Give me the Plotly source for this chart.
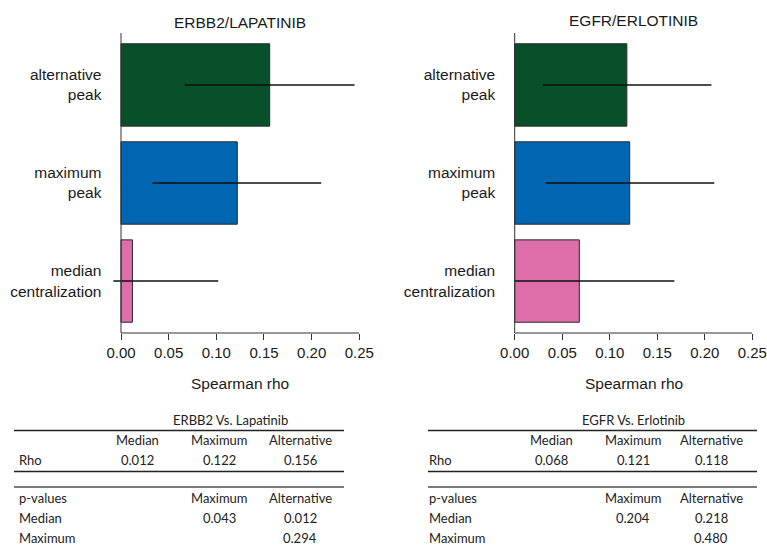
import plotly.graph_objects as go

# ---------------- data ----------------
categories = ["median<br>centralization", "maximum<br>peak", "alternative<br>peak"]  # bottom -> top
bar_colors = ["#DD6EAA", "#0066B1", "#07502A"]

erbb2_rho = [0.012, 0.122, 0.156]
erbb2_err_low = [-0.008, 0.033, 0.067]
erbb2_err_high = [0.102, 0.210, 0.245]

egfr_rho = [0.068, 0.121, 0.118]
egfr_err_low = [0.0, 0.0326, 0.0295]
egfr_err_high = [0.168, 0.210, 0.207]

panel_titles = ["ERBB2/LAPATINIB", "EGFR/ERLOTINIB"]
x_title = "Spearman rho"
x_tickvals = [0.00, 0.05, 0.10, 0.15, 0.20, 0.25]
x_ticktext = ["0.00", "0.05", "0.10", "0.15", "0.20", "0.25"]

table_titles = ["ERBB2 Vs. Lapatinib", "EGFR Vs. Erlotinib"]
rho_header = ["", "Median", "Maximum", "Alternative"]
rho_rows = [["Rho", "0.012", "0.122", "0.156"], ["Rho", "0.068", "0.121", "0.118"]]
p_header = ["p-values", "", "Maximum", "Alternative"]
p_rows = [
    [["Median", "", "0.043", "0.012"], ["Maximum", "", "", "0.294"]],
    [["Median", "", "0.204", "0.218"], ["Maximum", "", "", "0.480"]],
]

# ---------------- layout helpers ----------------
W, H = 767, 545
def px(x):
    return x / W
def py(y):
    return (H - y) / H

AXIS_FONT = "Liberation Sans, Arial, sans-serif"
TABLE_FONT = "Lato, Carlito, Calibri, sans-serif"
INK = "#1a1a1a"

fig = go.Figure()

panels = [
    dict(rho=erbb2_rho, lo=erbb2_err_low, hi=erbb2_err_high, xa="x", ya="y"),
    dict(rho=egfr_rho, lo=egfr_err_low, hi=egfr_err_high, xa="x2", ya="y2"),
]
for p in panels:
    fig.add_trace(go.Bar(
        x=p["rho"], y=categories, orientation="h",
        marker=dict(color=bar_colors, line=dict(color="#2a2a2a", width=1)),
        error_x=dict(type="data", symmetric=False,
                     array=[h - v for h, v in zip(p["hi"], p["rho"])],
                     arrayminus=[v - l for v, l in zip(p["rho"], p["lo"])],
                     color="#111111", thickness=1.5, width=0),
        xaxis=p["xa"], yaxis=p["ya"], showlegend=False, hoverinfo="x+y",
    ))

xcommon = dict(range=[-0.01, 0.25], tickvals=x_tickvals, ticktext=x_ticktext,
               ticks="outside", ticklen=6, tickcolor="#333333", tickwidth=1,
               showline=False, showgrid=False, zeroline=False, automargin=False,
               tickfont=dict(family=AXIS_FONT, size=15, color=INK))
ycommon = dict(type="category", categoryorder="array", categoryarray=categories,
               range=[-0.53, 2.53], showline=False, showgrid=False, zeroline=False,
               ticks="", ticklabelstandoff=9, automargin=False,
               tickfont=dict(family=AXIS_FONT, size=15.5, color=INK))

ydom = [py(333), py(33)]
fig.update_layout(
    width=W, height=H, margin=dict(l=0, r=0, t=0, b=0), autosize=False,
    paper_bgcolor="white", plot_bgcolor="white",
    bargap=0.16,
    xaxis=dict(domain=[px(111.47), px(359.3)], anchor="y", **xcommon),
    yaxis=dict(domain=ydom, anchor="x", **ycommon),
    xaxis2=dict(domain=[px(505.2), px(752.3)], anchor="y2", **xcommon),
    yaxis2=dict(domain=ydom, anchor="x2", **ycommon),
)

shapes = []
annotations = []
for i, (xa, ya) in enumerate([("x", "y"), ("x2", "y2")]):
    # axis lines starting at zero
    shapes.append(dict(type="line", xref=xa, yref=ya + " domain", x0=0, x1=0, y0=0, y1=1,
                       line=dict(color="#333333", width=1)))
    shapes.append(dict(type="line", xref=xa, yref=ya + " domain", x0=0, x1=0.25, y0=0, y1=0,
                       line=dict(color="#333333", width=1)))

title_x = [240, 633.5]
title_y = [22, 21]
for i in range(2):
    annotations.append(dict(text=panel_titles[i], x=px(title_x[i]), y=py(title_y[i]),
                            xref="paper", yref="paper", showarrow=False,
                            xanchor="center", yanchor="middle",
                            font=dict(family=AXIS_FONT, size=15.5, color=INK)))
    annotations.append(dict(text=x_title, x=px(title_x[i]), y=py(383),
                            xref="paper", yref="paper", showarrow=False,
                            xanchor="center", yanchor="middle",
                            font=dict(family=AXIS_FONT, size=15.5, color=INK)))

# ---------------- tables ----------------
tbl_left = [17, 427]
tbl_cols = [[137, 219, 300], [551, 633, 711]]
tbl_rule = [[14, 344], [428, 757]]
tbl_center = [230, 633]
row_y = dict(title=420, rule1=430.5, head=440, rho=459.5, rule2=471.5, rule3=487,
             phead=497.5, p1=517.5, p2=537.5)

def tab_text(t, x, y, anchor):
    annotations.append(dict(text=t, x=px(x), y=py(y), xref="paper", yref="paper",
                            showarrow=False, xanchor=anchor, yanchor="middle",
                            font=dict(family=TABLE_FONT, size=13, color="#222222")))

for i in range(2):
    tab_text(table_titles[i], tbl_center[i], row_y["title"], "center")
    x0, x1 = tbl_rule[i]
    for key, col, w in [("rule1", "#222222", 1.3), ("rule2", "#222222", 1.3), ("rule3", "#7a7a7a", 2.2)]:
        shapes.append(dict(type="line", xref="paper", yref="paper",
                           x0=px(x0), x1=px(x1), y0=py(row_y[key]), y1=py(row_y[key]),
                           line=dict(color=col, width=w)))
    rows = [(rho_header, row_y["head"]), (rho_rows[i], row_y["rho"]),
            (p_header, row_y["phead"]), (p_rows[i][0], row_y["p1"]), (p_rows[i][1], row_y["p2"])]
    for cells, y in rows:
        if cells[0]:
            tab_text(cells[0], tbl_left[i], y, "left")
        for c, xc in zip(cells[1:], tbl_cols[i]):
            if c:
                tab_text(c, xc, y, "center")

fig.update_layout(shapes=shapes, annotations=annotations)
fig.write_html("out.html", config={"displayModeBar": False},
               post_script="document.body.style.margin='0';document.body.style.overflow='hidden';")
